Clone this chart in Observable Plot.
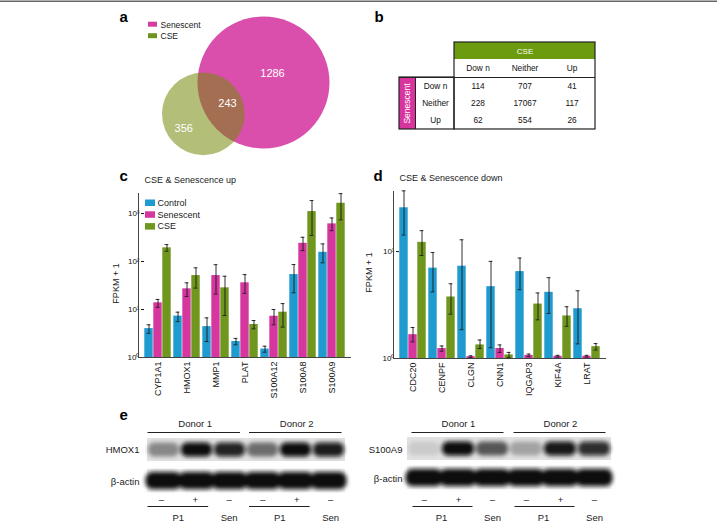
<!DOCTYPE html>
<html><head><meta charset="utf-8">
<script src="https://cdn.jsdelivr.net/npm/d3@7"></script>
<script src="https://cdn.jsdelivr.net/npm/@observablehq/plot@0.6"></script>
<style>
body{margin:0;background:#fff;}
#fig{position:relative;width:717px;height:523px;overflow:hidden;background:#fff;font-family:"Liberation Sans",Arial,sans-serif;}
#fig svg{position:absolute;left:0;top:0;background:transparent !important;max-width:none !important;}
</style></head><body><div id="fig"></div>
<script>
// ---------- DATA ----------
// a: Venn
const vennSets = ["Senescent", "CSE"];
const vennOnly = [1286, 356];
const vennBoth = 243;
// b: table
const tableCols = ["Dow n", "Neither", "Up"];
const tableRows = ["Dow n", "Neither", "Up"];
const tableCounts = [[114, 707, 41], [228, 17067, 117], [62, 554, 26]];
// c & d: bars
const series = ["Control", "Senescent", "CSE"];
const seriesColors = ["#1f9bcf", "#d6379f", "#6f961d"];
const upGenes = ["CYP1A1", "HMOX1", "MMP1", "PLAT", "S100A12", "S100A8", "S100A9"];
const upControl = [4.0, 7.3, 4.4, 2.15, 1.5, 53.5, 156];
const upControlErr = [[3.2, 4.8], [5.6, 8.8], [2.15, 6.7], [1.84, 2.5], [1.29, 1.72], [22.3, 86.6], [94, 233]];
const upSenescent = [13.8, 27, 51, 36, 7.25, 240, 610];
const upSenescentErr = [[11.1, 16.2], [18.7, 36], [21, 86], [21.8, 53.5], [4.8, 10], [169, 320], [440, 810]];
const upCSE = [193, 51, 28.3, 4.87, 8.8, 1100, 1640];
const upCSEErr = [[164, 226], [28, 74], [7.5, 49.4], [3.96, 5.9], [4.3, 13.3], [350, 1870], [740, 2600]];
const downGenes = ["CDC20", "CENPF", "CLGN", "CNN1", "IQGAP3", "KIF4A", "LRAT"];
const downControl = [25.7, 7.0, 7.3, 4.7, 6.5, 4.16, 2.92];
const downControlErr = [[14.3, 37], [4.2, 9.8], [1.86, 12.9], [1.26, 8.1], [4.4, 8.7], [2.64, 5.7], [1.37, 4.3]];
const downSenescent = [1.67, 1.24, 1.04, 1.24, 1.07, 1.05, 1.05];
const downSenescentErr = [[1.43, 1.95], [1.17, 1.31], [1.02, 1.06], [1.14, 1.34], [1.04, 1.1], [1.03, 1.07], [1.03, 1.07]];
const downCSE = [12.2, 3.76, 1.34, 1.08, 3.23, 2.5, 1.29];
const downCSEErr = [[9.2, 15.7], [2.6, 5.0], [1.24, 1.49], [1.02, 1.14], [2.3, 4.1], [2.0, 3.05], [1.2, 1.38]];
const upTicks = [1, 10, 100, 1000];
const downTicks = [1, 10];
// e: blots
const donors = ["Donor 1", "Donor 2"];
const laneSigns = ["–", "+", "–", "–", "+", "–"];
const laneGroups = ["P1", "Sen", "P1", "Sen"];
const hmox1Bands = [0.4, 1, 0.9, 0.52, 1, 0.93];
const hmox1Actin = [1, 1, 1, 1, 1, 1];
const s100a9Bands = [0.1, 1, 0.62, 0.28, 0.95, 0.85];
const s100a9Actin = [1, 1, 1, 1, 1, 1];

// ---------- HELPERS ----------
const W = 717, H = 523;
const FONT = "Liberation Sans, Arial, sans-serif";
const fig = document.getElementById("fig");
function base(o) {
  return Object.assign({width: W, height: H,
    style: {background: "transparent", fontFamily: FONT, fontSize: "9px", overflow: "visible", color: "#111"}}, o);
}
function add(chart) { fig.appendChild(chart); return chart; }
const ID = {x: {type: "identity", axis: null}, y: {type: "identity", axis: null}};
const sup = ["⁰", "¹", "²", "³", "⁴"];
const logFmt = d => "10" + sup[Math.round(Math.log10(d))];

// ---------- a: Venn ----------
const R1 = 66;
const unitArea = Math.PI * R1 * R1 / (vennOnly[0] + vennBoth);
const R2 = Math.sqrt((vennOnly[1] + vennBoth) * unitArea / Math.PI);
const lensTarget = vennBoth * unitArea;
function lens(d, a, b) {
  return a * a * Math.acos((d * d + a * a - b * b) / (2 * d * a)) + b * b * Math.acos((d * d + b * b - a * a) / (2 * d * b))
    - 0.5 * Math.sqrt((-d + a + b) * (d + a - b) * (d - a + b) * (d + a + b));
}
let lo = Math.abs(R1 - R2) + 1e-6, hi = R1 + R2 - 1e-6;
for (let k = 0; k < 60; k++) { const m = (lo + hi) / 2; if (lens(m, R1, R2) > lensTarget) lo = m; else hi = m; }
const dist = (lo + hi) / 2;
const c1 = [263, 82];
const dir = [-0.887, 0.462];
const c2 = [c1[0] + dir[0] * dist, c1[1] + dir[1] * dist];
const vennCircles = [{set: vennSets[0], x: c1[0], y: c1[1], r: R1}, {set: vennSets[1], x: c2[0], y: c2[1], r: R2}];
const tMid = (dist - R2 + R1) / 2;
const vennLabels = [
  {x: c1[0] + 9, y: c1[1] - 9, t: String(vennOnly[0])},
  {x: c1[0] + dir[0] * tMid + 5, y: c1[1] + dir[1] * tMid, t: String(vennBoth)},
  {x: c2[0] - 19.5, y: c2[1] + 15, t: String(vennOnly[1])}
];
const vennLegend = vennSets.map((s, i) => ({s, i, c: i === 0 ? "#d63ca0" : "#6e9420"}));
add(Plot.plot(base({
  margin: 0, ...ID, r: {type: "identity"},
  marks: [
    Plot.ruleY([0.8], {y: d => d, stroke: "#666", strokeWidth: 1.6}),
    Plot.dot(vennCircles.slice(0, 1), {x: "x", y: "y", r: "r", fill: "#db4fac"}),
    Plot.dot(vennCircles.slice(1), {x: "x", y: "y", r: "r", fill: "#75890a", fillOpacity: 0.55}),
    Plot.text(vennLabels, {x: "x", y: "y", text: "t", fill: "white", fontSize: 11}),
    Plot.rect(vennLegend, {x1: 148, x2: 157, y1: d => 21.7 + d.i * 11.5, y2: d => 26.7 + d.i * 11.5, fill: "c"}),
    Plot.text(vennLegend, {x: 160, y: d => 24.5 + d.i * 11.5, text: "s", textAnchor: "start", fontSize: 8.5, fill: "#222"})
  ]
})));

// ---------- b: table ----------
const colW = 47, rowH = 17.33, tx0 = 454, ty0 = 77;
const tCells = [];
tableRows.forEach((r, j) => tableCols.forEach((c, i) => tCells.push({x: tx0 + (i + 0.5) * colW, y: ty0 + (j + 0.5) * rowH, t: String(tableCounts[j][i])})));
add(Plot.plot(base({
  margin: 0, ...ID,
  marks: [
    Plot.rect([0], {x1: tx0, x2: tx0 + 3 * colW, y1: 42, y2: 59, fill: "#6c9b0f"}),
    Plot.rect([0], {x1: 399, x2: 415, y1: ty0, y2: ty0 + 3 * rowH, fill: "#d8349e"}),
    Plot.text(["CSE"], {x: tx0 + 1.5 * colW, y: 50.5, text: d => d, fill: "white", fontSize: 8}),
    Plot.text(["Senescent"], {x: 407, y: ty0 + 1.5 * rowH, text: d => d, fill: "white", fontSize: 8.5, rotate: -90}),
    Plot.text(tableCols.map((c, i) => ({x: tx0 + (i + 0.5) * colW, y: 68, t: c})), {x: "x", y: "y", text: "t", fontSize: 8.3, fill: "#111"}),
    Plot.text(tableRows.map((r, j) => ({x: 435, y: ty0 + (j + 0.5) * rowH, t: r})), {x: "x", y: "y", text: "t", fontSize: 8.3, fill: "#111"}),
    Plot.text(tCells, {x: "x", y: "y", text: "t", fontSize: 8.3, fill: "#111"}),
    Plot.rect([0], {x1: tx0, x2: tx0 + 3 * colW, y1: 42, y2: ty0 + 3 * rowH, fill: "none", stroke: "#222", strokeWidth: 1.2}),
    Plot.rect([0], {x1: 399, x2: tx0, y1: ty0, y2: ty0 + 3 * rowH, fill: "none", stroke: "#222", strokeWidth: 1.2}),
    Plot.ruleX([415], {x: d => d, y1: ty0, y2: ty0 + 3 * rowH, stroke: "#222"}),
    Plot.ruleY([ty0], {y: d => d, x1: 399, x2: tx0 + 3 * colW, stroke: "#222", strokeWidth: 1.2})
  ]
})));

// ---------- c & d: bar panels ----------
function barPanel(genes, vals, errs, box, yDomain, ticks, po) {
  const rows = [];
  genes.forEach((g, i) => series.forEach((s, k) => rows.push({gene: g, series: s, value: vals[k][i], lo: errs[k][i][0], hi: errs[k][i][1]})));
  const chart = add(Plot.plot(base({
    marginLeft: box[0], marginRight: W - box[1], marginTop: box[2], marginBottom: H - box[3],
    facet: {data: rows, x: "gene"},
    fx: {domain: genes, paddingInner: 0.085, paddingOuter: po, label: null, axis: "bottom", tickRotate: -90, tickSize: 0, tickPadding: 4},
    x: {domain: series, axis: null, padding: 0},
    y: {type: "log", domain: yDomain, ticks, tickFormat: logFmt, label: null, tickSize: 3, tickPadding: 2},
    color: {domain: series, range: seriesColors},
    marks: [
      Plot.barY(rows, {x: "series", y1: 1, y2: "value", fill: "series", insetLeft: 0.3, insetRight: 0.3}),
      Plot.ruleX(rows, {x: "series", y1: "lo", y2: "hi", stroke: "#1a1a1a", strokeWidth: 0.9}),
      Plot.tickY(rows, {x: "series", y: "lo", stroke: "#1a1a1a", strokeWidth: 0.9, insetLeft: 2.6, insetRight: 2.6}),
      Plot.tickY(rows, {x: "series", y: "hi", stroke: "#1a1a1a", strokeWidth: 0.9, insetLeft: 2.6, insetRight: 2.6})
    ]
  })));
  chart.querySelectorAll('g[aria-label^="y-axis"] text, g[aria-label="y-axis"] text').forEach(t => t.setAttribute("font-size", "8"));
  add(Plot.plot(base({
    marginLeft: box[0], marginRight: W - box[1], marginTop: box[2], marginBottom: H - box[3],
    x: {domain: [0, 1], axis: null}, y: {domain: [0, 1], axis: null},
    marks: [Plot.ruleX([0], {stroke: "#444", strokeWidth: 1}), Plot.ruleY([0], {stroke: "#444", strokeWidth: 1})]
  })));
}
barPanel(upGenes, [upControl, upSenescent, upCSE], [upControlErr, upSenescentErr, upCSEErr], [138, 351, 193, 357], [1, 2620], upTicks, 0.15);
barPanel(downGenes, [downControl, downSenescent, downCSE], [downControlErr, downSenescentErr, downCSEErr], [393, 606, 191, 358], [1, 36.5], downTicks, 0.1);

// ---------- e: blots ----------
function blotPanel(name, protein, actin, xr, yr, yPad, id) {
  const bg = [], bp = [], ba = [];
  protein.forEach((v, i) => { bg.push({lane: i, row: name}, {lane: i, row: "β-actin"}); bp.push({lane: i, row: name, v}); });
  actin.forEach((v, i) => ba.push({lane: i, row: "β-actin", v}));
  const chart = add(Plot.plot(base({
    marginLeft: xr[0], marginRight: W - xr[1], marginTop: yr[0], marginBottom: H - yr[1],
    x: {type: "band", domain: d3.range(protein.length), padding: 0, axis: null},
    y: {type: "band", domain: [name, "β-actin"], paddingInner: yPad, paddingOuter: 0, axis: null},
    opacity: {domain: [0, 1], range: [0, 1]},
    marks: [
      Plot.cell(bg, {x: "lane", y: "row", fill: d => d.row === name ? "#e2e2e2" : "#efefef", inset: 0, shapeRendering: "crispEdges"}),
      Plot.cell(bp, {x: "lane", y: "row", fill: "#0a0a0a", fillOpacity: "v", insetLeft: 1, insetRight: 1, insetTop: 4.5, insetBottom: 4.5, rx: 6}),
      Plot.cell(ba, {x: "lane", y: "row", fill: "#0a0a0a", fillOpacity: "v", insetLeft: -1.5, insetRight: -1.5, insetTop: 3, insetBottom: 3, rx: 7})
    ]
  })));
  const defs = document.createElementNS("http://www.w3.org/2000/svg", "defs");
  defs.innerHTML = `<filter id="${id}" x="-30%" y="-60%" width="160%" height="220%"><feGaussianBlur stdDeviation="2"/></filter>`;
  chart.insertBefore(defs, chart.firstChild);
  const gs = chart.querySelectorAll('g[aria-label="cell"]');
  if (gs[1]) gs[1].setAttribute("filter", `url(#${id})`);
  if (gs[2]) gs[2].setAttribute("filter", `url(#${id})`);
  return d3.scaleBand().domain(d3.range(protein.length)).range(xr).padding(0);
}
const ex = [];
function blotAnno(sx, labelX, name, protY, actY, dIns, pIns) {
  const c = i => sx(i) + sx.bandwidth() / 2;
  const lines = [];
  donors.forEach((d, k) => {
    ex.push({x: c(3 * k + 1), y: 423, t: d, a: "middle"});
    lines.push({x1: sx(3 * k) + dIns[0], x2: sx(3 * k + 2) + sx.bandwidth() - dIns[1], y: 432});
    lines.push({x1: sx(3 * k) + pIns[0], x2: sx(3 * k + 1) + sx.bandwidth() - pIns[1], y: 506});
  });
  laneSigns.forEach((s, i) => ex.push({x: c(i), y: 499, t: s, a: "middle"}));
  laneGroups.forEach((g, k) => {
    const l = k % 2 === 0 ? (c(3 * (k >> 1)) + c(3 * (k >> 1) + 1)) / 2 : c(3 * (k >> 1) + 2);
    ex.push({x: l, y: 517, t: g, a: "middle"});
  });
  ex.push({x: labelX, y: protY, t: name, a: "end"}, {x: labelX, y: actY, t: "β-actin", a: "end"});
  return lines;
}
const sxL = blotPanel("HMOX1", hmox1Bands, hmox1Actin, [144, 347], [438, 493], 0.25, "blurL");
const sxR = blotPanel("S100A9", s100a9Bands, s100a9Actin, [407, 611], [437, 490], 0.2, "blurR");
const linesE = blotAnno(sxL, 139, "HMOX1", 449, 481, [3, 6], [3, 4]).concat(blotAnno(sxR, 402, "S100A9", 449, 478, [4, 6], [5, 3]));

// ---------- annotations ----------
const letters = [{x: 119, y: 17, t: "a"}, {x: 374, y: 17, t: "b"}, {x: 119, y: 176, t: "c"}, {x: 373, y: 176, t: "d"}, {x: 119, y: 415, t: "e"}];
const startTexts = [
  {x: 144, y: 180, t: "CSE & Senescence up"}, {x: 399, y: 178, t: "CSE & Senescence down"}
].concat(series.map((s, i) => ({x: 157, y: 202.5 + i * 11.8, t: s})));
const legendC = series.map((s, i) => ({s, i}));
const yLabels = [{x: 116, y: 283, t: "FPKM + 1"}, {x: 369, y: 272, t: "FPKM + 1"}];
add(Plot.plot(base({
  margin: 0, ...ID,
  color: {domain: series, range: seriesColors},
  marks: [
    Plot.text(letters, {x: "x", y: "y", text: "t", fontSize: 15, fontWeight: "bold", textAnchor: "start", fill: "#000"}),
    Plot.text(startTexts, {x: "x", y: "y", text: "t", fontSize: 9, textAnchor: "start", fill: "#222"}),
    Plot.rect(legendC, {x1: 145, x2: 155, y1: d => 199.5 + d.i * 11.8, y2: d => 206 + d.i * 11.8, fill: "s"}),
    Plot.text(yLabels, {x: "x", y: "y", text: "t", fontSize: 9, rotate: -90, fill: "#222"}),
    Plot.text(ex.filter(d => d.a === "middle"), {x: "x", y: "y", text: "t", fontSize: 9.5, fill: "#222"}),
    Plot.text(ex.filter(d => d.a === "end"), {x: "x", y: "y", text: "t", fontSize: 9.5, textAnchor: "end", fill: "#222"}),
    Plot.link(linesE, {x1: "x1", x2: "x2", y1: "y", y2: "y", stroke: "#222", strokeWidth: 1})
  ]
})));
</script>
</body></html>
